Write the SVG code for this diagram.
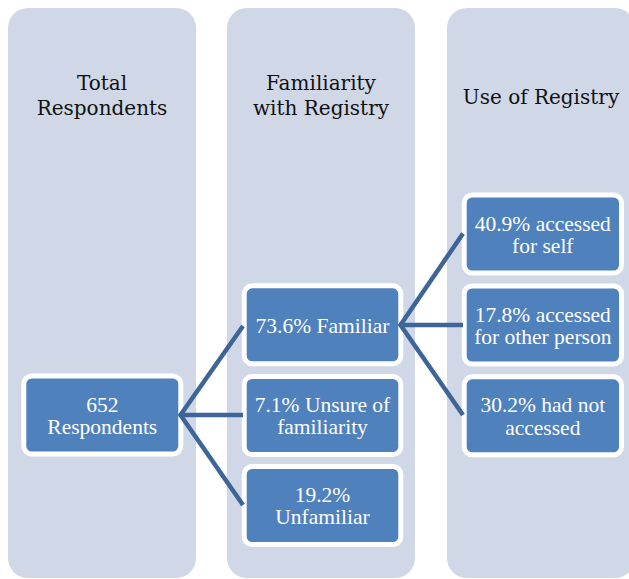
<svg xmlns="http://www.w3.org/2000/svg" width="629" height="579" viewBox="0 0 629 579">
  <style>
    .col { fill: #d0d8e8; }
    .head { font-family: "DejaVu Serif", serif; font-size: 20px; fill: #111; text-anchor: middle; }
    .box rect { fill: #4f81bd; stroke: #ffffff; stroke-width: 5; }
    .box text { font-family: "Liberation Serif", serif; font-size: 21.5px; fill: #ffffff; text-anchor: middle; }
    .link { stroke: #3d6597; stroke-width: 4.5; fill: none; stroke-linejoin: miter; }
  </style>

  <!-- column backgrounds -->
  <g id="columns">
    <rect class="col" x="8" y="8" width="188" height="570" rx="20"/>
    <rect class="col" x="227" y="8" width="188" height="570" rx="20"/>
    <rect class="col" x="447" y="8" width="188" height="570" rx="20"/>
  </g>

  <!-- column titles -->
  <g id="headers">
    <text class="head" x="102" y="89.5">Total</text>
    <text class="head" x="102" y="114.5">Respondents</text>
    <text class="head" x="321" y="90">Familiarity</text>
    <text class="head" x="321" y="114.5">with Registry</text>
    <text class="head" x="541" y="103.5">Use of Registry</text>
  </g>

  <!-- boxes -->
  <g id="total" class="box">
    <rect x="23.8" y="376" width="157" height="78" rx="8"/>
    <text x="102.3" y="411.5">652</text>
    <text x="102.3" y="434">Respondents</text>
  </g>
  <g id="familiar" class="box">
    <rect x="244.2" y="285.8" width="156.6" height="78" rx="8"/>
    <text x="322.5" y="332.7">73.6% Familiar</text>
  </g>
  <g id="unsure" class="box">
    <rect x="244.2" y="376.5" width="156.6" height="78" rx="8"/>
    <text x="322.5" y="411.8">7.1% Unsure of</text>
    <text x="322.5" y="434.3">familiarity</text>
  </g>
  <g id="unfamiliar" class="box">
    <rect x="244.2" y="466.5" width="156.6" height="78" rx="8"/>
    <text x="322.5" y="501.8">19.2%</text>
    <text x="322.5" y="524.3">Unfamiliar</text>
  </g>
  <g id="self" class="box">
    <rect x="464.2" y="195" width="157.3" height="78" rx="8"/>
    <text x="542.8" y="230.5">40.9% accessed</text>
    <text x="542.8" y="253">for self</text>
  </g>
  <g id="other" class="box">
    <rect x="464.2" y="286" width="157.3" height="78" rx="8"/>
    <text x="542.8" y="321.5">17.8% accessed</text>
    <text x="542.8" y="344">for other person</text>
  </g>
  <g id="notaccessed" class="box">
    <rect x="464.2" y="376.8" width="157.3" height="78" rx="8"/>
    <text x="542.8" y="412.2">30.2% had not</text>
    <text x="542.8" y="434.7">accessed</text>
  </g>

  <!-- connectors -->
  <g id="connectors">
    <path class="link" d="M243 326 L180.5 415 L243 505"/>
    <path class="link" d="M180.5 415 L243 415"/>
    <path class="link" d="M463 233.5 L400.5 325 L463 415"/>
    <path class="link" d="M400.5 325 L463 325"/>
  </g>
</svg>
